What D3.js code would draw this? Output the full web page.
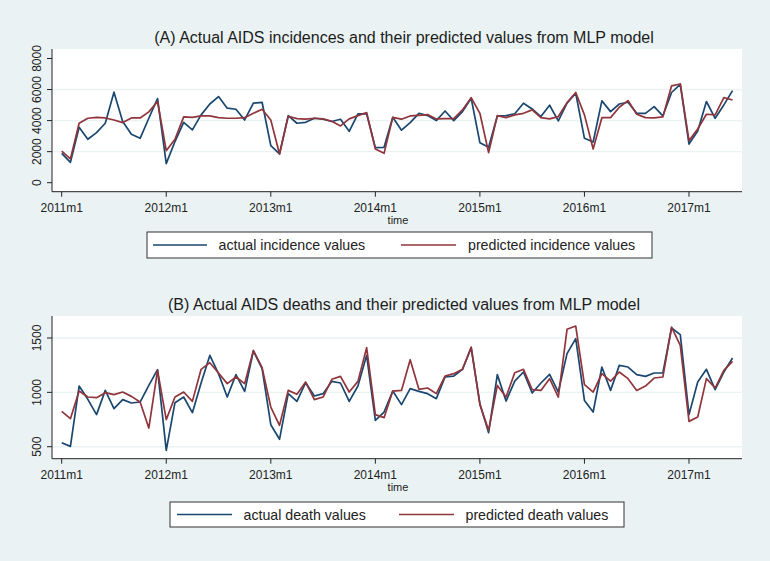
<!DOCTYPE html>
<html><head><meta charset="utf-8">
<script src="https://cdn.jsdelivr.net/npm/d3@7"></script>
<style>
body{margin:0;background:#eaf2f3;}
svg{display:block;font-family:"Liberation Sans",Arial,Helvetica,sans-serif;}
</style>
</head><body>
<svg id="chart" width="770" height="561"></svg>
<script>
// ---------- data ----------
const monthCount = 78; // 2011m1 .. 2017m6
const xTickLabels = ["2011m1","2012m1","2013m1","2014m1","2015m1","2016m1","2017m1"];
const xTickMonths = [0,12,24,36,48,60,72];

const incidenceActual = [1890,1310,3570,2800,3230,3830,5830,3940,3120,2860,
  4150,5420,1230,2650,3890,3400,4370,5070,5550,4800,
  4730,4040,5120,5180,2390,1850,4320,3830,3890,4150,
  4090,3940,4090,3310,4430,4430,2260,2280,4210,3380,
  3870,4470,4320,4000,4620,4000,4580,5440,2580,2280,
  4300,4320,4440,5120,4750,4260,4990,3980,5120,5760,
  2860,2620,5270,4580,5070,5180,4470,4470,4900,4300,
  5810,6340,2490,3330,5230,4150,5010,5930];
const incidencePredicted = [2040,1530,3830,4150,4210,4170,4040,3870,4170,4170,
  4560,5230,2060,2800,4240,4210,4300,4300,4190,4150,
  4150,4190,4470,4730,4040,1850,4280,4130,4090,4150,
  4110,3960,3660,4110,4320,4520,2170,1890,4210,4090,
  4300,4340,4390,4110,4130,4130,4690,5480,4470,1940,
  4320,4190,4370,4470,4690,4190,4110,4260,5160,5810,
  4370,2170,4190,4190,4860,5290,4410,4190,4170,4240,
  6240,6360,2710,3460,4410,4370,5480,5330];
const deathActual = [537,503,1058,936,795,1018,850,933,902,911,
  1064,1209,466,905,957,813,1086,1340,1172,957,
  1163,1009,1380,1218,702,568,988,917,1089,966,
  988,1101,1086,917,1058,1340,742,819,1012,887,
  1034,1009,988,942,1141,1150,1212,1408,896,629,
  1163,920,1104,1187,994,1086,1166,1003,1356,1494,
  926,819,1233,1018,1248,1233,1163,1147,1178,1178,
  1592,1531,795,1095,1212,1025,1187,1316];
const deathPredicted = [825,758,1012,957,951,997,979,1003,963,911,
  672,1202,749,957,1003,917,1212,1273,1178,1080,
  1141,1080,1386,1227,865,696,1018,982,1095,933,
  957,1120,1147,1003,1101,1411,795,767,1012,1018,
  1300,1028,1040,988,1150,1172,1212,1417,887,650,
  1064,957,1181,1212,1025,1018,1126,957,1580,1610,
  1071,1003,1172,1104,1187,1126,1018,1058,1132,1141,
  1601,1432,733,773,1126,1040,1202,1285];

const incidenceTicks = [0,2000,4000,6000,8000];
const incidenceGrid = [2000,4000,6000];
const deathTicks = [500,1000,1500];
const deathGrid = [500,1000,1500];

const titles = ["(A) Actual AIDS incidences and their predicted values from MLP model",
                "(B) Actual AIDS deaths and their predicted values from MLP model"];
const legendA = ["actual incidence values","predicted incidence values"];
const legendB = ["actual death values","predicted death values"];
const xTitle = "time";

// ---------- drawing ----------
const svg = d3.select("#chart");
const NAVY = "#1a476f", MAROON = "#90353b", BG = "#eaf2f3";
svg.append("rect").attr("width",770).attr("height",561).attr("fill",BG);

const x = d3.scaleLinear().domain([0,72]).range([61.7,689]);

function panel(cfg){
  const g = svg.append("g");
  const {top,bottom,left,right} = cfg;
  const y = d3.scaleLinear().domain(cfg.ydom).range(cfg.yrange);
  g.append("rect").attr("x",left).attr("y",top).attr("width",right-left).attr("height",bottom-top).attr("fill","#fff");
  g.selectAll(".grid").data(cfg.grid).enter().append("line")
    .attr("x1",left).attr("x2",right).attr("y1",d=>y(d)).attr("y2",d=>y(d))
    .attr("stroke",BG).attr("stroke-width",1.4);
  const line = d3.line().x((d,i)=>x(i)).y(d=>y(d));
  g.append("path").datum(cfg.actual).attr("d",line).attr("fill","none")
    .attr("stroke",NAVY).attr("stroke-width",1.7).attr("stroke-linejoin","round");
  g.append("path").datum(cfg.pred).attr("d",line).attr("fill","none")
    .attr("stroke",MAROON).attr("stroke-width",1.7).attr("stroke-linejoin","round");
  // y axis
  g.append("line").attr("x1",left).attr("x2",left).attr("y1",top).attr("y2",bottom).attr("stroke","#222").attr("stroke-width",1);
  const yt = g.selectAll(".yt").data(cfg.yticks).enter().append("g");
  yt.append("line").attr("x1",left-5).attr("x2",left).attr("y1",d=>y(d)).attr("y2",d=>y(d)).attr("stroke","#222");
  yt.append("text").attr("transform",d=>`translate(${left-11},${y(d)}) rotate(-90)`)
    .attr("text-anchor","middle").attr("font-size",12).attr("fill","#222").text(d=>d);
  // x axis
  g.append("line").attr("x1",left).attr("x2",right).attr("y1",bottom).attr("y2",bottom).attr("stroke","#222").attr("stroke-width",1);
  const xt = g.selectAll(".xt").data(xTickMonths).enter().append("g");
  xt.append("line").attr("x1",d=>x(d)).attr("x2",d=>x(d)).attr("y1",bottom).attr("y2",bottom+5).attr("stroke","#222");
  xt.append("text").attr("x",d=>x(d)).attr("y",bottom+20).attr("text-anchor","middle")
    .attr("font-size",12).attr("fill","#222").text((d,i)=>xTickLabels[i]);
  g.append("text").attr("x",398).attr("y",bottom+32).attr("text-anchor","middle").attr("font-size",11).attr("fill","#222").text(xTitle);
  // title
  g.append("text").attr("x",404).attr("y",top-6).attr("text-anchor","middle").attr("font-size",16).attr("fill","#1c1c1c").text(cfg.title);
  // legend
  const L = cfg.leg;
  g.append("rect").attr("x",L.x0).attr("y",L.y0).attr("width",L.x1-L.x0).attr("height",L.y1-L.y0)
    .attr("fill","#fff").attr("stroke","#333").attr("stroke-width",1);
  const ly = (L.y0+L.y1)/2;
  [[NAVY,L.s1,L.t1,cfg.labels[0]],[MAROON,L.s2,L.t2,cfg.labels[1]]].forEach(([c,s,t,lab])=>{
    g.append("line").attr("x1",s[0]).attr("x2",s[1]).attr("y1",ly).attr("y2",ly).attr("stroke",c).attr("stroke-width",1.5);
    g.append("text").attr("x",t).attr("y",ly+5).attr("font-size",14.2).attr("fill","#222").text(lab);
  });
}

panel({top:49,bottom:191.7,left:52,right:742,ydom:[0,8000],yrange:[182.7,58.5],
  yticks:incidenceTicks,grid:incidenceGrid,actual:incidenceActual,pred:incidencePredicted,
  title:titles[0],labels:legendA,
  leg:{x0:147,x1:652,y0:232,y1:258,s1:[153,207],t1:218.5,s2:[401,456],t2:468}});
panel({top:316,bottom:458.7,left:52,right:742,ydom:[500,1500],yrange:[446.7,338],
  yticks:deathTicks,grid:deathGrid,actual:deathActual,pred:deathPredicted,
  title:titles[1],labels:legendB,
  leg:{x0:170,x1:624,y0:502,y1:527,s1:[177,232],t1:243.5,s2:[399,454],t2:465.5}});
</script>
</body></html>
